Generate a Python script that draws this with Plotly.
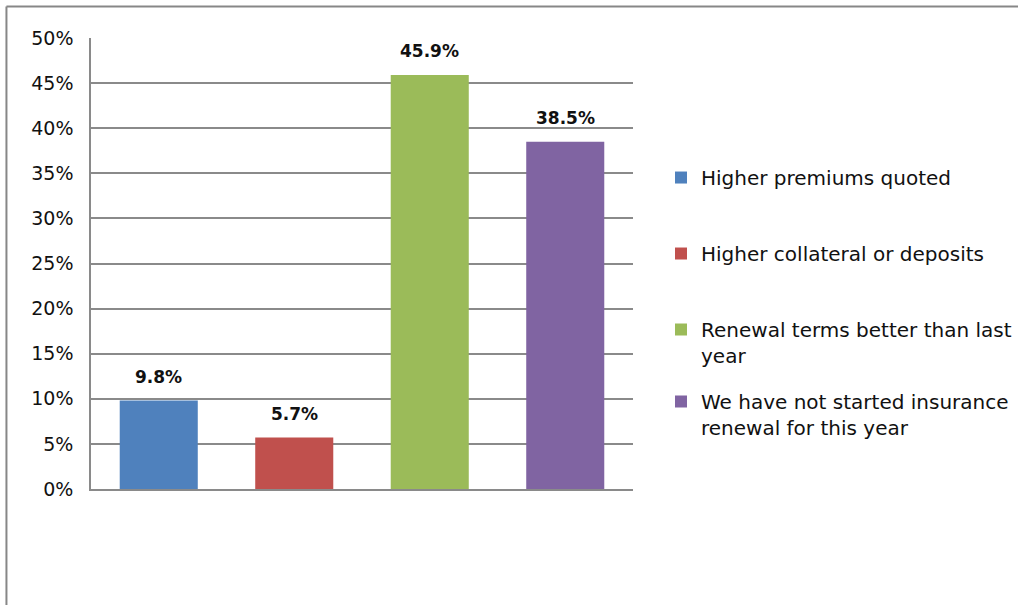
import plotly.graph_objects as go

# Survey responses on insurance renewal terms
categories = [
    "Higher premiums quoted",
    "Higher collateral or deposits",
    "Renewal terms better than last<br>year",
    "We have not started insurance<br>renewal for this year",
]
values = [9.8, 5.7, 45.9, 38.5]
colors = ["#4f81bd", "#c0504d", "#9bbb59", "#8064a2"]
y_ticks = [0, 5, 10, 15, 20, 25, 30, 35, 40, 45, 50]
y_tick_labels = [f"{t}%" for t in y_ticks]

FONT = "DejaVu Sans"
GRID = "#8a8a8a"
TEXT = "#111111"

# one legend box per series so each entry can sit at its own height
legend_names = ["legend", "legend2", "legend3", "legend4"]
legend_tops = [0.7388, 0.6132, 0.4876, 0.3686]

fig = go.Figure()
for i, (name, val, col) in enumerate(zip(categories, values, colors)):
    fig.add_trace(go.Bar(
        x=[i], y=[val], name=name, width=0.576,
        marker=dict(color=col, line=dict(width=0)),
        legend=legend_names[i], hoverinfo="skip",
    ))
    fig.add_annotation(
        x=i, y=val, text=f"<b>{val}%</b>", showarrow=False,
        yanchor="middle", yshift=24,
        font=dict(family=FONT, size=17, color=TEXT),
    )

legend_style = dict(
    x=0.6493, xref="container", yref="container",
    xanchor="left", yanchor="top",
    font=dict(family=FONT, size=20, color=TEXT),
    valign="top", bgcolor="rgba(0,0,0,0)", borderwidth=0,
)
layout_legends = {
    ln: dict(legend_style, y=top) for ln, top in zip(legend_names, legend_tops)
}

# Chart frame (top and left edges)
fig.add_shape(type="line", xref="paper", yref="paper",
              x0=-0.156, x1=1.75, y0=1.0698, y1=1.0698,
              line=dict(color="#878787", width=2))
fig.add_shape(type="line", xref="paper", yref="paper",
              x0=-0.156, x1=-0.156, y0=1.0698, y1=-0.3,
              line=dict(color="#878787", width=2))

fig.update_layout(
    width=1018, height=605,
    margin=dict(l=91, r=385, t=38, b=116, autoexpand=False),
    paper_bgcolor="white", plot_bgcolor="white",
    barmode="overlay", showlegend=True,
    font=dict(family=FONT, size=19, color=TEXT),
    xaxis=dict(range=[-0.5, 3.5], showticklabels=False, showgrid=False,
               showline=True, linecolor=GRID, linewidth=1.5,
               zeroline=False, ticks=""),
    yaxis=dict(range=[0, 50], tickvals=y_ticks, ticktext=y_tick_labels,
               showgrid=True, gridcolor=GRID, gridwidth=1.5,
               showline=True, linecolor=GRID, linewidth=1.5,
               zeroline=False, ticks="", ticklabelstandoff=12,
               tickfont=dict(family=FONT, size=19, color=TEXT)),
    **layout_legends,
)

fig.write_html("out.html")
